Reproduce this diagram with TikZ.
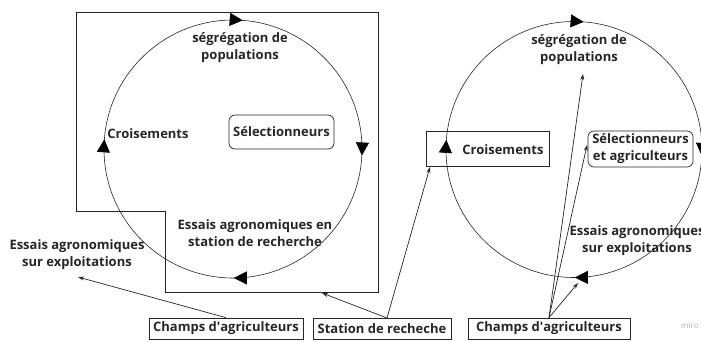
\documentclass[tikz,border=0pt]{standalone}
\usepackage{fontspec}
\setmainfont{Open Sans}
\usetikzlibrary{arrows.meta,decorations.markings}
\newcommand{\apos}{\textquotesingle}
\begin{document}
\begin{tikzpicture}[x=1pt,y=-1pt,
  lbl/.style={font=\bfseries\fontsize{13}{17}\selectfont, align=center, inner sep=0pt, text=black!85},
  rbox/.style={lbl, draw=black!85, line width=0.7pt, rounded corners=6pt, minimum width=105pt, minimum height=34pt},
  sbox/.style={lbl, draw=black!85, line width=0.7pt, minimum height=21pt},
  link/.style={draw=black!85, line width=0.7pt, -{Stealth[length=6pt,width=4pt]}},
  ringpath/.style={draw=black!85, line width=0.6pt, postaction={decorate},
    decoration={markings,
      mark=at position 0.008 with {\arrow[black]{Triangle[length=13pt,width=13pt]}},
      mark=at position 0.249 with {\arrow[black]{Triangle[length=13pt,width=13pt]}},
      mark=at position 0.512 with {\arrow[black]{Triangle[length=13pt,width=13pt]}},
      mark=at position 0.762 with {\arrow[black]{Triangle[length=13pt,width=13pt]}}}}
]
\clip (0,0) rectangle (701,341);
\fill[white] (0,0) rectangle (701,341);

% research-station cycle
\draw[black!85, line width=0.9pt] (76,12) -- (378,12) -- (378,292) -- (165,292) -- (165,211) -- (76,211) -- cycle;
\path[ringpath] (233,149) circle[radius=129];
\node[lbl] (segL) at (240,47.5) {ségrégation de\\populations};
\node[lbl] (croisL) at (148,134) {Croisements};
\node[rbox] (selL) at (281.5,132) {Sélectionneurs};
\node[lbl] (essL) at (255,233.5) {Essais agronomiques en\\station de recherche};
\node[lbl] (essExt) at (77,254.5) {Essais agronomiques\\sur exploitations};

% participatory cycle
\path[ringpath] (574,149.5) circle[radius=128];
\node[lbl] (segR) at (579,50) {ségrégation de\\populations};
\node[draw=black!85, line width=0.7pt, minimum width=123pt, minimum height=35pt] (croisBox) at (487.5,148.5) {};
\node[lbl] (croisR) at (503,150) {Croisements};
\node[rbox, minimum height=36pt] (selR) at (640.5,149) {Sélectionneurs\\et agriculteurs};
\node[lbl] (essR) at (637,240.5) {Essais agronomiques\\sur exploitations};

% places
\node[sbox, minimum width=154pt] (champsA) at (226,328.5) {Champs d\apos agriculteurs};
\node[sbox, minimum width=138pt] (station) at (382,328.5) {Station de recheche};
\node[sbox, minimum width=162pt] (champsB) at (549,328.5) {Champs d\apos agriculteurs};

\coordinate (tEssExt) at (78,277);
\coordinate (tStation) at (322,293);
\coordinate (tCrois) at (430,167);
\coordinate (tSegR) at (583,74);
\coordinate (tSelR) at (587,145);
\coordinate (tCircR) at (578,283);
\coordinate (sStation) at (387,318);

\draw[link] (champsA.north) -- (tEssExt);
\draw[link] (sStation) -- (tStation);
\draw[link] (sStation) -- (tCrois);
\draw[link] (champsB.north) -- (tSegR);
\draw[link] (champsB.north) -- (tSelR);
\draw[link] (champsB.north) -- (tCircR);

\node[font=\fontsize{8}{8}\selectfont, text=black!30, anchor=west, inner sep=0pt] (wm) at (681,326) {miro};
\end{tikzpicture}
\end{document}
